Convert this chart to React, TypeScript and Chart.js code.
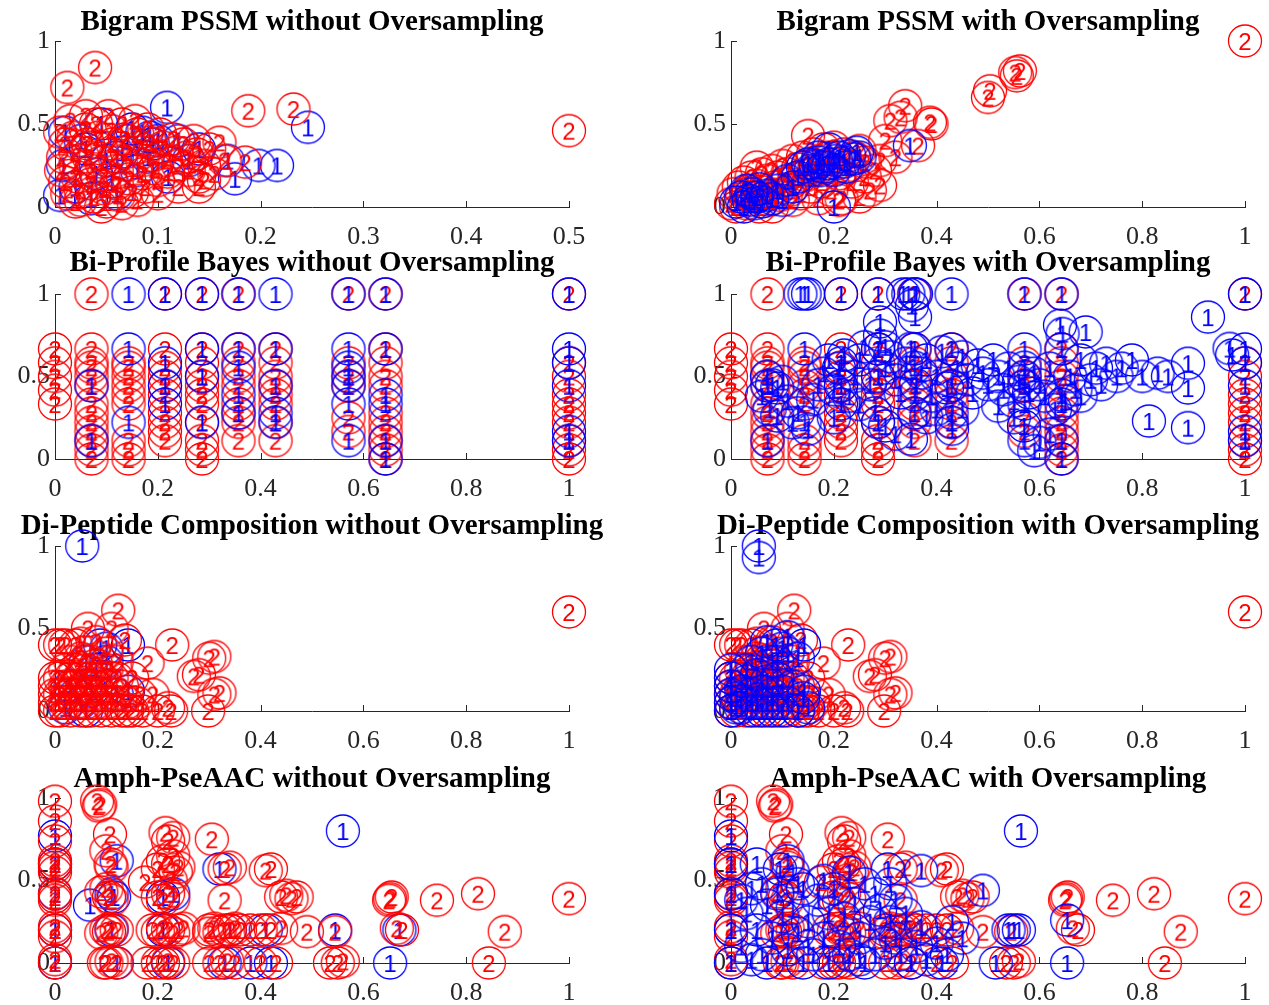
import React, { useEffect, useRef } from 'react';
import { Chart, registerables } from 'chart.js';

Chart.register(...registerables);

type Pt = [number, number];

// ---------------- DATA ----------------
const panelTitles: string[] = [
  'Bigram PSSM without Oversampling',
  'Bigram PSSM with Oversampling',
  'Bi-Profile Bayes without Oversampling',
  'Bi-Profile Bayes with Oversampling',
  'Di-Peptide Composition without Oversampling',
  'Di-Peptide Composition with Oversampling',
  'Amph-PseAAC without Oversampling',
  'Amph-PseAAC with Oversampling',
];
const panelXMax: number[] = [0.5, 1, 1, 1, 1, 1, 1, 1];
const panelXStep: number[] = [0.1, 0.2, 0.2, 0.2, 0.2, 0.2, 0.2, 0.2];
const yTickStep = 0.5;
const classLabels: string[] = ['1', '2'];

const bigramNoOS_class1: Pt[] = [
  [0.109, 0.6], [0.246, 0.48], [0.216, 0.25], [0.198, 0.25], [0.175, 0.17], [0.168, 0.28],
  [0.06, 0.3], [0.065, 0.33], [0.092, 0.42], [0.095, 0.38], [0.085, 0.45], [0.1, 0.4],
  [0.075, 0.47], [0.005, 0.07], [0.008, 0.25], [0.01, 0.45], [0.02, 0.12], [0.03, 0.35],
  [0.04, 0.2], [0.045, 0.5], [0.05, 0.28], [0.055, 0.15], [0.07, 0.4], [0.08, 0.22],
  [0.09, 0.3], [0.12, 0.4], [0.13, 0.28], [0.14, 0.35], [0.11, 0.18], [0.06, 0.08],
  [0.025, 0.4], [0.035, 0.05],
];
const bigramNoOS_class2: Pt[] = [
  [0.012, 0.72], [0.039, 0.84], [0.188, 0.58], [0.232, 0.59], [0.5, 0.46],
  [0.005, 0.45], [0.01, 0.38], [0.008, 0.3], [0.006, 0.22], [0.01, 0.15], [0.012, 0.08],
  [0.015, 0.52], [0.018, 0.42], [0.02, 0.33], [0.02, 0.25], [0.022, 0.18], [0.025, 0.1],
  [0.025, 0.04], [0.03, 0.55], [0.03, 0.47], [0.032, 0.38], [0.033, 0.3], [0.035, 0.22],
  [0.035, 0.14], [0.038, 0.06], [0.04, 0.5], [0.042, 0.42], [0.045, 0.35], [0.045, 0.27],
  [0.047, 0.19], [0.048, 0.11], [0.05, 0.03], [0.052, 0.55], [0.055, 0.46], [0.056, 0.38],
  [0.058, 0.3], [0.06, 0.22], [0.06, 0.14], [0.062, 0.07], [0.065, 0.5], [0.068, 0.41],
  [0.07, 0.33], [0.07, 0.25], [0.072, 0.17], [0.075, 0.09], [0.078, 0.52], [0.08, 0.44],
  [0.082, 0.36], [0.085, 0.28], [0.085, 0.2], [0.088, 0.12], [0.09, 0.47], [0.092, 0.39],
  [0.095, 0.31], [0.097, 0.23], [0.1, 0.16], [0.102, 0.44], [0.105, 0.36], [0.108, 0.28],
  [0.11, 0.21], [0.115, 0.41], [0.118, 0.33], [0.12, 0.25], [0.125, 0.38], [0.128, 0.3],
  [0.13, 0.22], [0.135, 0.4], [0.138, 0.32], [0.14, 0.18], [0.145, 0.25], [0.15, 0.35],
  [0.155, 0.2], [0.16, 0.39], [0.165, 0.28], [0.185, 0.27], [0.145, 0.16], [0.14, 0.12],
  [0.065, 0.02], [0.08, 0.04], [0.1, 0.08], [0.12, 0.12], [0.02, 0.03], [0.045, 0.0],
];

const bigramOS_class1: Pt[] = [
  [0.348, 0.37], [0.01, 0.03], [0.02, 0.06], [0.025, 0.0], [0.03, 0.1], [0.035, 0.04],
  [0.04, 0.08], [0.045, 0.02], [0.05, 0.06], [0.055, 0.11], [0.06, 0.03], [0.07, 0.07],
  [0.08, 0.05], [0.09, 0.1], [0.1, 0.04], [0.14, 0.24], [0.15, 0.26], [0.155, 0.22],
  [0.165, 0.25], [0.17, 0.27], [0.175, 0.22], [0.18, 0.24], [0.19, 0.26], [0.2, 0.22],
  [0.205, 0.28], [0.21, 0.3], [0.22, 0.27], [0.225, 0.24], [0.23, 0.31], [0.24, 0.29],
  [0.245, 0.33], [0.25, 0.3], [0.2, 0.0], [0.19, 0.35], [0.13, 0.18], [0.12, 0.12],
  [0.11, 0.16], [0.17, 0.3],
];
const bigramOS_class2: Pt[] = [
  [1.0, 1.0], [0.553, 0.81], [0.562, 0.82], [0.556, 0.79], [0.504, 0.7], [0.5, 0.66],
  [0.339, 0.61], [0.33, 0.54], [0.31, 0.52], [0.387, 0.51], [0.39, 0.5], [0.364, 0.37],
  [0.29, 0.28], [0.29, 0.13], [0.15, 0.43], [0.3, 0.4], [0.32, 0.3], [0.28, 0.22],
  [0.26, 0.18], [0.27, 0.1], [0.25, 0.06], [0.24, 0.3],
  [0.0, 0.02], [0.005, 0.08], [0.01, 0.0], [0.015, 0.12], [0.02, 0.05], [0.025, 0.15],
  [0.03, 0.02], [0.035, 0.1], [0.04, 0.18], [0.045, 0.06], [0.05, 0.13], [0.055, 0.0],
  [0.06, 0.2], [0.065, 0.09], [0.07, 0.16], [0.075, 0.04], [0.08, 0.22], [0.085, 0.12],
  [0.09, 0.18], [0.095, 0.07], [0.1, 0.25], [0.105, 0.14], [0.11, 0.2], [0.115, 0.1],
  [0.12, 0.28], [0.125, 0.17], [0.13, 0.23], [0.135, 0.08], [0.14, 0.3], [0.145, 0.19],
  [0.15, 0.25], [0.155, 0.12], [0.16, 0.32], [0.165, 0.22], [0.17, 0.28], [0.175, 0.15],
  [0.18, 0.35], [0.185, 0.24], [0.19, 0.3], [0.195, 0.1], [0.2, 0.36], [0.205, 0.26],
  [0.21, 0.2], [0.215, 0.05], [0.22, 0.32], [0.23, 0.25], [0.235, 0.15], [0.25, 0.34],
  [0.26, 0.27], [0.21, 0.04], [0.12, 0.04], [0.08, 0.0], [0.17, 0.05], [0.05, 0.24],
  [0.03, 0.08],
];

const biProfileNoOS_class1: Pt[] = [
  [0.071, 0.444], [0.071, 0.111],
  [0.143, 1], [0.143, 0.667], [0.143, 0.222],
  [0.214, 1], [0.214, 0.583], [0.214, 0.444], [0.214, 0.333],
  [0.286, 1], [0.286, 0.667], [0.286, 0.5], [0.286, 0.222],
  [0.357, 1], [0.357, 0.667], [0.357, 0.556], [0.357, 0.389], [0.357, 0.278],
  [0.429, 1], [0.429, 0.667], [0.429, 0.444], [0.429, 0.278], [0.429, 0.222],
  [0.571, 1], [0.571, 0.667], [0.571, 0.556], [0.571, 0.5], [0.571, 0.444], [0.571, 0.333], [0.571, 0.111],
  [0.643, 1], [0.643, 0.667], [0.643, 0.389], [0.643, 0.333], [0.643, 0.111], [0.643, 0.0],
  [1, 1], [1, 0.667], [1, 0.583], [1, 0.444], [1, 0.167], [1, 0.111],
];
const biProfile_class2: Pt[] = [
  [0, 0.667], [0, 0.583], [0, 0.5], [0, 0.417], [0, 0.333],
  [0.071, 1], [0.071, 0.667], [0.071, 0.583], [0.071, 0.556], [0.071, 0.5], [0.071, 0.444],
  [0.071, 0.333], [0.071, 0.278], [0.071, 0.222], [0.071, 0.167], [0.071, 0.111], [0.071, 0.056], [0.071, 0],
  [0.143, 0.583], [0.143, 0.556], [0.143, 0.5], [0.143, 0.444], [0.143, 0.389], [0.143, 0.333],
  [0.143, 0.111], [0.143, 0.056], [0.143, 0],
  [0.214, 1], [0.214, 0.667], [0.214, 0.556], [0.214, 0.5], [0.214, 0.444], [0.214, 0.389],
  [0.214, 0.278], [0.214, 0.222], [0.214, 0.167], [0.214, 0.111],
  [0.286, 1], [0.286, 0.667], [0.286, 0.583], [0.286, 0.5], [0.286, 0.444], [0.286, 0.389],
  [0.286, 0.333], [0.286, 0.222], [0.286, 0.111], [0.286, 0.056], [0.286, 0],
  [0.357, 1], [0.357, 0.667], [0.357, 0.583], [0.357, 0.5], [0.357, 0.444], [0.357, 0.333],
  [0.357, 0.278], [0.357, 0.222], [0.357, 0.111],
  [0.429, 0.667], [0.429, 0.583], [0.429, 0.5], [0.429, 0.444], [0.429, 0.389], [0.429, 0.333],
  [0.429, 0.222], [0.429, 0.111],
  [0.571, 1], [0.571, 0.583], [0.571, 0.5], [0.571, 0.444], [0.571, 0.25], [0.571, 0.167],
  [0.643, 1], [0.643, 0.667], [0.643, 0.583], [0.643, 0.5], [0.643, 0.444], [0.643, 0.278],
  [0.643, 0.222], [0.643, 0.167], [0.643, 0.111], [0.643, 0.056], [0.643, 0],
  [1, 1], [1, 0.583], [1, 0.5], [1, 0.389], [1, 0.333], [1, 0.278], [1, 0.222], [1, 0.111], [1, 0.056], [1, 0],
];
const biProfileOS_class1: Pt[] = [
  [0.071, 0.444], [0.071, 0.111],
  [0.143, 1], [0.143, 0.667], [0.143, 0.222],
  [0.214, 1], [0.214, 0.583], [0.214, 0.444], [0.214, 0.333],
  [0.286, 1], [0.286, 0.667], [0.286, 0.5], [0.286, 0.222],
  [0.357, 1], [0.357, 0.667], [0.357, 0.556], [0.357, 0.389], [0.357, 0.278],
  [0.429, 1], [0.429, 0.667], [0.429, 0.444], [0.429, 0.278], [0.429, 0.222],
  [0.571, 1], [0.571, 0.667], [0.571, 0.556], [0.571, 0.5], [0.571, 0.444], [0.571, 0.333], [0.571, 0.111],
  [0.643, 1], [0.643, 0.667], [0.643, 0.389], [0.643, 0.333], [0.643, 0.111], [0.643, 0.0],
  [1, 1], [1, 0.667], [1, 0.583], [1, 0.444], [1, 0.167], [1, 0.111],
  [0.135, 1], [0.15, 1], [0.335, 1], [0.345, 1], [0.36, 1], [0.352, 0.93], [0.358, 0.86],
  [0.29, 0.83], [0.29, 0.75], [0.3, 0.68], [0.64, 0.81], [0.645, 0.76], [0.69, 0.77], [0.928, 0.86],
  [0.07, 0.5], [0.08, 0.45], [0.09, 0.43], [0.1, 0.47], [0.06, 0.38], [0.075, 0.3], [0.09, 0.26],
  [0.11, 0.35], [0.13, 0.28], [0.16, 0.36], [0.17, 0.45], [0.18, 0.52], [0.19, 0.6], [0.2, 0.42],
  [0.21, 0.55], [0.22, 0.63], [0.23, 0.38], [0.24, 0.5], [0.25, 0.6], [0.26, 0.68], [0.27, 0.45],
  [0.3, 0.55], [0.31, 0.62], [0.32, 0.48], [0.33, 0.4], [0.34, 0.58], [0.35, 0.67], [0.36, 0.45],
  [0.37, 0.52], [0.38, 0.6], [0.39, 0.38], [0.4, 0.5], [0.41, 0.65], [0.42, 0.43], [0.44, 0.55],
  [0.45, 0.62], [0.46, 0.48], [0.47, 0.4], [0.48, 0.57], [0.49, 0.52], [0.5, 0.45], [0.51, 0.6],
  [0.52, 0.5], [0.53, 0.42], [0.54, 0.55], [0.55, 0.35], [0.56, 0.47], [0.58, 0.4], [0.59, 0.52],
  [0.6, 0.45], [0.61, 0.38], [0.62, 0.55], [0.63, 0.3], [0.66, 0.5], [0.67, 0.42], [0.68, 0.6],
  [0.7, 0.48], [0.71, 0.55], [0.72, 0.45], [0.73, 0.58], [0.75, 0.5], [0.76, 0.55], [0.78, 0.6],
  [0.8, 0.5], [0.83, 0.52], [0.85, 0.5], [0.889, 0.58], [0.889, 0.43], [0.813, 0.23], [0.889, 0.19],
  [0.97, 0.67], [0.975, 0.63],
  [0.3, 0.2], [0.32, 0.15], [0.35, 0.12], [0.28, 0.28], [0.38, 0.25], [0.43, 0.18], [0.45, 0.3],
  [0.55, 0.25], [0.57, 0.2], [0.59, 0.05], [0.6, 0.1], [0.62, 0.15], [0.4, 0.3], [0.2, 0.25],
  [0.15, 0.18], [0.12, 0.22], [0.25, 0.33], [0.52, 0.32], [0.65, 0.35], [0.68, 0.38],
];

const diPeptide_class2: Pt[] = [
  [1.0, 0.6], [0.228, 0.4], [0.3, 0.32], [0.31, 0.33], [0.27, 0.21], [0.28, 0.22], [0.32, 0.11],
  [0.31, 0.1], [0.298, 0.0], [0.18, 0.29], [0.226, 0.0], [0.22, 0.02], [0.123, 0.61], [0.11, 0.5],
  [0.064, 0.5], [0.136, 0.43], [0.19, 0.1], [0.2, 0.0], [0.17, 0.0], [0.165, 0.1], [0.15, 0.2], [0.14, 0.0],
  [0.0, 0.4], [0.01, 0.4], [0.02, 0.4], [0.04, 0.4], [0.05, 0.41], [0.08, 0.42], [0.1, 0.35], [0.12, 0.3],
  [0.0, 0.0], [0.0, 0.1], [0.0, 0.2], [0.0, 0.15], [0.0, 0.05], [0.01, 0.0], [0.01, 0.1], [0.01, 0.2],
  [0.02, 0.05], [0.02, 0.15], [0.03, 0.0], [0.03, 0.1], [0.03, 0.2], [0.04, 0.05], [0.04, 0.15],
  [0.05, 0.0], [0.05, 0.1], [0.05, 0.2], [0.06, 0.05], [0.06, 0.15], [0.07, 0.0], [0.07, 0.1],
  [0.07, 0.2], [0.08, 0.05], [0.08, 0.15], [0.09, 0.0], [0.09, 0.1], [0.09, 0.2], [0.1, 0.05],
  [0.1, 0.15], [0.11, 0.0], [0.11, 0.1], [0.11, 0.2], [0.12, 0.05], [0.13, 0.0], [0.13, 0.15],
  [0.14, 0.05], [0.15, 0.0], [0.16, 0.05], [0.02, 0.25], [0.04, 0.25], [0.06, 0.25], [0.08, 0.28],
  [0.1, 0.25], [0.12, 0.2], [0.03, 0.3], [0.05, 0.32], [0.07, 0.3],
];
const diPeptideNoOS_class1: Pt[] = [
  [0.053, 1.0], [0.142, 0.4], [0.088, 0.4], [0.1, 0.38], [0.142, 0.12], [0.02, 0.02], [0.05, 0.05],
  [0.06, 0.0], [0.07, 0.12], [0.04, 0.1], [0.08, 0.25], [0.03, 0.15], [0.1, 0.3], [0.12, 0.1], [0.06, 0.3],
];
const diPeptideOS_class1: Pt[] = [
  [0.054, 1.0], [0.054, 0.93], [0.142, 0.4], [0.088, 0.4], [0.1, 0.38], [0.07, 0.42], [0.11, 0.45],
  [0.13, 0.32], [0.142, 0.12], [0.11, 0.35], [0.09, 0.3], [0.0, 0.0], [0.0, 0.05], [0.0, 0.1],
  [0.0, 0.15], [0.0, 0.2], [0.0, 0.25], [0.01, 0.02], [0.01, 0.08], [0.02, 0.02], [0.02, 0.12],
  [0.03, 0.05], [0.03, 0.18], [0.04, 0.0], [0.04, 0.1], [0.05, 0.05], [0.05, 0.22], [0.06, 0.0],
  [0.06, 0.12], [0.07, 0.05], [0.07, 0.18], [0.08, 0.0], [0.08, 0.1], [0.09, 0.05], [0.09, 0.2],
  [0.1, 0.0], [0.1, 0.12], [0.11, 0.05], [0.12, 0.15], [0.13, 0.0], [0.14, 0.08], [0.15, 0.02],
  [0.04, 0.3], [0.06, 0.35], [0.08, 0.3], [0.03, 0.25],
];

const amph_class2: Pt[] = [
  [1.0, 0.39], [0.823, 0.42], [0.743, 0.38], [0.875, 0.19], [0.844, 0.0], [0.652, 0.39], [0.655, 0.4],
  [0.65, 0.38], [0.675, 0.2], [0.665, 0.21], [0.545, 0.19], [0.535, 0.0], [0.55, 0.0], [0.56, 0.01],
  [0.41, 0.56], [0.42, 0.57], [0.44, 0.4], [0.45, 0.41], [0.46, 0.39], [0.47, 0.4], [0.49, 0.19],
  [0.4, 0.2], [0.42, 0.2], [0.44, 0.21], [0.38, 0.2], [0.36, 0.2], [0.4, 0.0], [0.43, 0.0],
  [0.305, 0.75], [0.33, 0.57], [0.34, 0.58], [0.33, 0.38], [0.3, 0.2], [0.31, 0.21], [0.32, 0.19],
  [0.33, 0.2], [0.34, 0.2], [0.35, 0.21], [0.3, 0.0], [0.32, 0.0], [0.335, 0.01], [0.35, 0.0], [0.3, 0.18],
  [0.215, 0.79], [0.22, 0.74], [0.23, 0.76], [0.21, 0.62], [0.22, 0.6], [0.23, 0.65], [0.235, 0.55],
  [0.24, 0.58], [0.2, 0.57], [0.225, 0.5], [0.175, 0.49], [0.2, 0.4], [0.21, 0.38], [0.22, 0.42],
  [0.23, 0.39], [0.19, 0.2], [0.2, 0.19], [0.21, 0.21], [0.22, 0.2], [0.23, 0.18], [0.24, 0.2],
  [0.25, 0.21], [0.2, 0.0], [0.21, 0.0], [0.22, 0.01], [0.23, 0.0], [0.18, 0.0],
  [0.082, 0.98], [0.088, 0.96], [0.085, 0.95], [0.107, 0.78], [0.1, 0.68], [0.108, 0.6], [0.11, 0.58],
  [0.1, 0.45], [0.105, 0.4], [0.11, 0.38], [0.09, 0.43], [0.1, 0.2], [0.105, 0.19], [0.11, 0.21],
  [0.12, 0.2], [0.09, 0.18], [0.1, 0.0], [0.11, 0.01], [0.12, 0.0], [0.095, 0.0],
  [0.0, 0.98], [0.0, 0.86], [0.0, 0.74], [0.0, 0.62], [0.0, 0.6], [0.0, 0.58], [0.0, 0.55],
  [0.0, 0.42], [0.0, 0.4], [0.0, 0.38], [0.0, 0.22], [0.0, 0.2], [0.0, 0.16], [0.0, 0.0], [0.0, 0.02],
];
const amphNoOS_class1: Pt[] = [
  [0.56, 0.8], [0.652, 0.0], [0.67, 0.2], [0.545, 0.2], [0.41, 0.2], [0.42, 0.0], [0.38, 0.0],
  [0.34, 0.2], [0.33, 0.0], [0.32, 0.57], [0.21, 0.4], [0.23, 0.42], [0.22, 0.0], [0.12, 0.62],
  [0.11, 0.42], [0.115, 0.4], [0.068, 0.35], [0.11, 0.2], [0.12, 0.0], [0.0, 0.77], [0.0, 0.6],
  [0.0, 0.42], [0.0, 0.2], [0.0, 0.0], [0.21, 0.2],
];
const amphOS_class1: Pt[] = [
  [0.564, 0.8], [0.654, 0.26], [0.654, 0.0], [0.515, 0.0], [0.54, 0.2], [0.55, 0.2], [0.56, 0.2],
  [0.49, 0.44], [0.37, 0.56], [0.305, 0.57], [0.31, 0.48], [0.32, 0.38], [0.095, 0.57], [0.05, 0.6],
  [0.0, 0.77], [0.0, 0.6], [0.0, 0.42], [0.0, 0.2], [0.0, 0.0], [0.11, 0.62], [0.12, 0.55], [0.13, 0.48],
  [0.02, 0.1], [0.03, 0.3], [0.04, 0.45], [0.05, 0.2], [0.06, 0.05], [0.07, 0.35], [0.08, 0.15],
  [0.09, 0.42], [0.1, 0.28], [0.11, 0.08], [0.12, 0.33], [0.13, 0.18], [0.14, 0.45], [0.15, 0.25],
  [0.16, 0.05], [0.17, 0.38], [0.18, 0.15], [0.19, 0.3], [0.2, 0.45], [0.21, 0.1], [0.22, 0.27],
  [0.23, 0.05], [0.24, 0.36], [0.25, 0.15], [0.26, 0.48], [0.27, 0.25], [0.28, 0.05], [0.29, 0.32],
  [0.3, 0.12], [0.31, 0.25], [0.33, 0.05], [0.34, 0.3], [0.36, 0.1], [0.37, 0.22], [0.38, 0.02],
  [0.4, 0.12], [0.42, 0.05], [0.43, 0.25], [0.45, 0.15], [0.04, 0.02], [0.07, 0.0], [0.14, 0.0],
  [0.19, 0.0], [0.26, 0.0], [0.35, 0.0], [0.41, 0.0], [0.06, 0.48], [0.18, 0.5], [0.23, 0.55],
  [0.28, 0.42], [0.02, 0.38], [0.15, 0.1], [0.25, 0.02], [0.32, 0.15],
];

const panelClass1: Pt[][] = [
  bigramNoOS_class1, bigramOS_class1, biProfileNoOS_class1, biProfileOS_class1,
  diPeptideNoOS_class1, diPeptideOS_class1, amphNoOS_class1, amphOS_class1,
];
const panelClass2: Pt[][] = [
  bigramNoOS_class2, bigramOS_class2, biProfile_class2, biProfile_class2,
  diPeptide_class2, diPeptide_class2, amph_class2, amph_class2,
];
const panelRedOnTop: boolean[] = [true, false, false, false, true, false, true, false];

// ---------------- LAYOUT / STYLE ----------------
const SERIF = '"Liberation Serif", "Times New Roman", Times, serif';
const SANS = '"Liberation Sans", Arial, Helvetica, sans-serif';
const AXIS_COLOR = '#262626';
const BLUE = '#0000ff';
const RED = '#ff0000';
const COL_AXIS_LEFT = [55, 731];
const COL_AXIS_RIGHT = [569, 1245];
const ROW_AXIS_TOP = [41, 294, 546, 798];
const ROW_AXIS_BOTTOM = [207, 459, 711, 963];
const ROW_TITLE_Y = [23, 264, 527, 780];
const CANVAS_LEFT = [0, 640];
const CANVAS_WIDTH = [634, 629];
const TOP_MARGIN = 60;
const BOTTOM_MARGIN = 50;
const Y_AXIS_W = 50;
const X_AXIS_H = 40;

const fmtTick = (v: any) => String(Math.round(Number(v) * 100) / 100);

const markerCache: Record<string, HTMLCanvasElement> = {};
function marker(label: string, color: string): HTMLCanvasElement {
  const key = label + color;
  if (markerCache[key]) return markerCache[key];
  const c = document.createElement('canvas');
  c.width = 38;
  c.height = 38;
  const ctx = c.getContext('2d')!;
  ctx.strokeStyle = color;
  ctx.lineWidth = 1.3;
  ctx.beginPath();
  ctx.ellipse(19, 19, 16.5, 16, 0, 0, Math.PI * 2);
  ctx.stroke();
  ctx.fillStyle = color;
  ctx.font = `24px ${SANS}`;
  ctx.textAlign = 'center';
  ctx.textBaseline = 'alphabetic';
  ctx.fillText(label, 19, 19 + 8.6);
  markerCache[key] = c;
  return c;
}

function Panel({ idx }: { idx: number }) {
  const ref = useRef<HTMLCanvasElement>(null);
  const col = idx % 2;
  const row = Math.floor(idx / 2);
  const axisTop = ROW_AXIS_TOP[row];
  const axisBottom = ROW_AXIS_BOTTOM[row];
  const canvasTop = axisTop - TOP_MARGIN;
  const canvasLeft = CANVAS_LEFT[col];
  const width = CANVAS_WIDTH[col];
  const height = TOP_MARGIN + (axisBottom - axisTop) + BOTTOM_MARGIN;

  useEffect(() => {
    const title = panelTitles[idx];
    const titleY = ROW_TITLE_Y[row] - canvasTop;
    const deco = {
      id: 'panelDeco',
      beforeDatasetsDraw(chart: any) {
        const { ctx, chartArea } = chart;
        const xs = chart.scales.x;
        const ys = chart.scales.y;
        ctx.save();
        ctx.strokeStyle = AXIS_COLOR;
        ctx.lineWidth = 1;
        ctx.beginPath();
        for (const t of xs.ticks) {
          const px = Math.round(xs.getPixelForValue(t.value)) + 0.5;
          ctx.moveTo(px, chartArea.bottom);
          ctx.lineTo(px, chartArea.bottom - 6);
        }
        for (const t of ys.ticks) {
          const py = Math.round(ys.getPixelForValue(t.value)) + 0.5;
          ctx.moveTo(chartArea.left, py);
          ctx.lineTo(chartArea.left + 6, py);
        }
        ctx.stroke();
        ctx.fillStyle = '#000';
        ctx.font = `bold 29px ${SERIF}`;
        ctx.textAlign = 'center';
        ctx.textBaseline = 'middle';
        ctx.fillText(title, (chartArea.left + chartArea.right) / 2, titleY);
        ctx.restore();
      },
    };

    const ds1 = {
      label: classLabels[0],
      data: panelClass1[idx].map(([x, y]) => ({ x, y })),
      pointStyle: marker(classLabels[0], BLUE),
      pointRadius: 16,
      clip: false as const,
    };
    const ds2 = {
      label: classLabels[1],
      data: panelClass2[idx].map(([x, y]) => ({ x, y })),
      pointStyle: marker(classLabels[1], RED),
      pointRadius: 16,
      clip: false as const,
    };
    const datasets = panelRedOnTop[idx] ? [ds2, ds1] : [ds1, ds2];

    const tickFont = { family: SERIF, size: 26 };
    const chart = new Chart(ref.current!, {
      type: 'scatter',
      data: { datasets: datasets as any },
      plugins: [deco],
      options: {
        responsive: false,
        animation: false,
        devicePixelRatio: 1,
        events: [],
        layout: {
          padding: {
            left: COL_AXIS_LEFT[col] - canvasLeft - Y_AXIS_W,
            right: width - (COL_AXIS_RIGHT[col] - canvasLeft),
            top: TOP_MARGIN,
            bottom: BOTTOM_MARGIN - X_AXIS_H,
          },
        },
        plugins: {
          legend: { display: false },
          tooltip: { enabled: false },
          title: { display: false },
        },
        scales: {
          x: {
            type: 'linear',
            position: 'bottom',
            min: 0,
            max: panelXMax[idx],
            ticks: {
              stepSize: panelXStep[idx],
              padding: 15,
              color: AXIS_COLOR,
              font: tickFont,
              maxRotation: 0,
              autoSkip: false,
              callback: fmtTick,
            },
            grid: { display: false, drawTicks: false },
            border: { display: true, color: AXIS_COLOR, width: 1 },
            afterFit: (s: any) => {
              s.height = X_AXIS_H;
            },
          },
          y: {
            type: 'linear',
            min: 0,
            max: 1,
            ticks: {
              stepSize: yTickStep,
              padding: 5,
              color: AXIS_COLOR,
              font: tickFont,
              autoSkip: false,
              callback: fmtTick,
            },
            grid: { display: false, drawTicks: false },
            border: { display: true, color: AXIS_COLOR, width: 1 },
            afterFit: (s: any) => {
              s.width = Y_AXIS_W;
            },
          },
        },
      } as any,
    });
    return () => chart.destroy();
  }, [idx]);

  return (
    <canvas
      ref={ref}
      width={width}
      height={height}
      style={{ position: 'absolute', left: canvasLeft, top: canvasTop, width, height }}
    />
  );
}

export default function App() {
  return (
    <div
      style={{
        position: 'absolute',
        left: 0,
        top: 0,
        width: 1269,
        height: 1005,
        overflow: 'hidden',
        background: '#ffffff',
      }}
    >
      {panelTitles.map((_, i) => (
        <Panel key={i} idx={i} />
      ))}
    </div>
  );
}
